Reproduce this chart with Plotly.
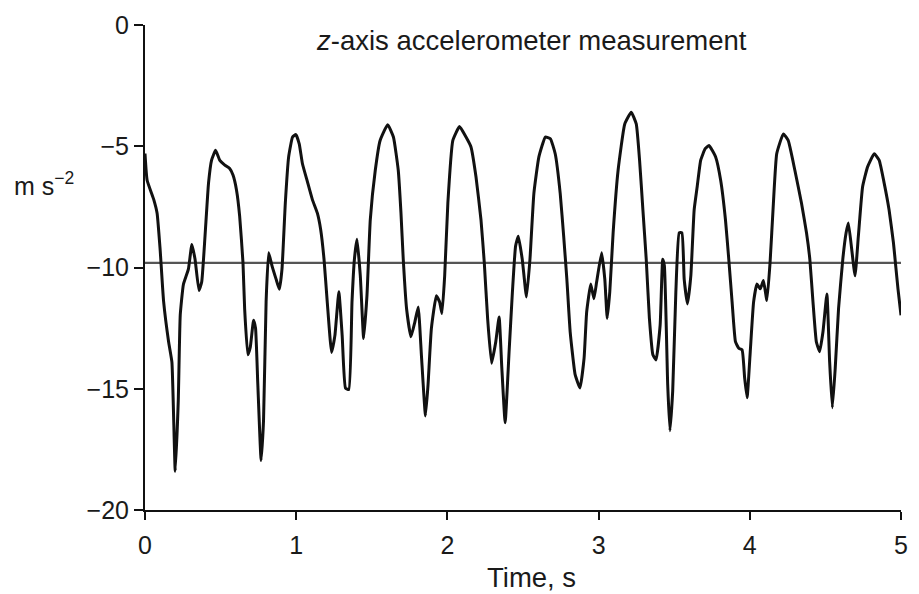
import plotly.graph_objects as go

# Time (s) and z-axis acceleration (m s^-2)
time_s = [0.0, 0.014, 0.058, 0.08, 0.10, 0.123, 0.156, 0.178, 0.20, 0.22, 0.233, 0.254, 0.287, 0.31, 0.331,
          0.357, 0.375, 0.397, 0.42, 0.44, 0.467, 0.495, 0.528, 0.56, 0.582, 0.605, 0.626, 0.648, 0.659,
          0.68, 0.696, 0.718, 0.731, 0.746, 0.768, 0.784, 0.801, 0.818, 0.84, 0.867, 0.889, 0.906, 0.928,
          0.95, 0.976, 0.998, 1.02, 1.041, 1.074, 1.107, 1.14, 1.162, 1.184, 1.205, 1.234, 1.256, 1.282,
          1.304, 1.326, 1.348, 1.369, 1.385, 1.402, 1.424, 1.446, 1.468, 1.49, 1.523, 1.555, 1.605, 1.643,
          1.675, 1.693, 1.708, 1.73, 1.759, 1.785, 1.807, 1.828, 1.855, 1.872, 1.894, 1.927, 1.949, 1.964,
          1.982, 2.003, 2.036, 2.08, 2.123, 2.156, 2.189, 2.222, 2.244, 2.266, 2.292, 2.32, 2.342, 2.36,
          2.382, 2.408, 2.43, 2.451, 2.469, 2.495, 2.523, 2.546, 2.572, 2.605, 2.648, 2.681, 2.713, 2.746,
          2.769, 2.79, 2.812, 2.845, 2.877, 2.904, 2.921, 2.948, 2.969, 2.987, 3.02, 3.041, 3.057, 3.074,
          3.096, 3.129, 3.173, 3.216, 3.249, 3.271, 3.293, 3.315, 3.336, 3.359, 3.38, 3.407, 3.424, 3.435,
          3.457, 3.472, 3.49, 3.511, 3.533, 3.551, 3.566, 3.588, 3.61, 3.632, 3.652, 3.675, 3.705, 3.73,
          3.774, 3.807, 3.839, 3.861, 3.883, 3.905, 3.927, 3.949, 3.966, 3.982, 4.003, 4.025, 4.047, 4.069,
          4.09, 4.113, 4.134, 4.156, 4.178, 4.222, 4.254, 4.298, 4.342, 4.375, 4.397, 4.418, 4.44, 4.462,
          4.484, 4.51, 4.528, 4.546, 4.565, 4.587, 4.615, 4.637, 4.652, 4.674, 4.696, 4.718, 4.746, 4.779,
          4.823, 4.856, 4.889, 4.921, 4.95, 4.965, 4.98, 5.0]
accel_z = [-5.3, -6.4, -7.2, -7.76, -9.25, -11.4, -13.06, -13.9, -18.4, -15.5, -11.97, -10.7, -10.07, -9.05, -9.66,
           -10.95, -10.6, -8.7, -6.53, -5.58, -5.17, -5.58, -5.78, -5.92, -6.19, -6.8, -7.88, -9.8, -11.7,
           -13.6, -13.3, -12.18, -12.5, -14.8, -17.96, -16.3, -11.4, -9.39, -9.93, -10.48, -10.9, -10.07, -7.35,
           -5.44, -4.62, -4.52, -4.9, -5.71, -6.46, -7.2, -7.76, -8.44, -9.66, -11.4, -13.5, -12.8, -11.0,
           -12.8, -14.97, -15.03, -11.43, -9.66, -8.84, -10.34, -12.93, -11.16, -8.03, -5.99, -4.76, -4.11, -4.62,
           -5.99, -7.76, -9.66, -11.7, -12.86, -12.24, -11.63, -13.6, -16.12, -14.83, -12.52, -11.16, -11.43, -11.9,
           -10.34, -7.35, -4.76, -4.19, -4.62, -5.03, -6.26, -8.03, -9.8, -12.1, -13.95, -13.06, -12.04, -14.15,
           -16.4, -13.47, -11.0, -9.11, -8.71, -9.66, -11.22, -9.66, -6.94, -5.44, -4.62, -4.69, -5.31, -6.94,
           -8.71, -10.48, -12.65, -14.42, -14.97, -13.74, -11.84, -10.68, -11.29, -10.6, -9.39, -10.48, -12.1, -11.0,
           -8.57, -5.99, -4.08, -3.6, -4.08, -5.58, -7.62, -9.66, -12.1, -13.6, -13.81, -12.38, -9.66, -9.93,
           -14.83, -16.73, -15.1, -11.0, -8.57, -8.57, -10.48, -11.5, -10.34, -7.62, -6.67, -5.58, -5.1, -4.97,
           -5.44, -6.39, -8.03, -9.66, -11.43, -13.06, -13.33, -13.4, -14.56, -15.37, -13.47, -11.43, -10.68, -10.88,
           -10.54, -11.36, -9.8, -7.35, -5.31, -4.49, -4.76, -5.99, -7.35, -8.57, -9.66, -11.43, -13.06, -13.47,
           -12.65, -11.09, -13.88, -15.78, -14.15, -11.7, -9.66, -8.57, -8.16, -9.25, -10.34, -8.71, -6.67, -5.85,
           -5.31, -5.58, -6.53, -7.62, -8.98, -9.93, -10.88, -11.97]

gravity = -9.81
x_ticks = [0, 1, 2, 3, 4, 5]
y_ticks = [0, -5, -10, -15, -20]

fig = go.Figure()
fig.add_trace(go.Scatter(x=[0, 5], y=[gravity, gravity], mode="lines",
                         line=dict(color="#555555", width=2.4), hoverinfo="skip", showlegend=False))
fig.add_trace(go.Scatter(x=time_s, y=accel_z, mode="lines",
                         line=dict(color="#111111", width=3, shape="spline", smoothing=0.4),
                         showlegend=False))

font = dict(family="Liberation Sans, Arial, sans-serif", size=25, color="#1a1a1a")
font_big = dict(family="Liberation Sans, Arial, sans-serif", size=27.5, color="#1a1a1a")
fig.update_layout(
    width=919, height=594,
    margin=dict(l=145, r=11, t=20, b=84),
    plot_bgcolor="white", paper_bgcolor="white",
    font=font,
    xaxis=dict(range=[0, 5], tickvals=x_ticks, showgrid=False, zeroline=False,
               showline=True, linecolor="#111111", linewidth=2,
               ticks="outside", ticklen=8, tickwidth=2, tickcolor="#111111",
               tickfont=font, ticklabelstandoff=4),
    yaxis=dict(range=[-20, 0], tickvals=y_ticks, showgrid=False, zeroline=False,
               showline=True, linecolor="#111111", linewidth=2,
               ticks="outside", ticklen=9, tickwidth=2, tickcolor="#111111",
               tickfont=font),
    annotations=[
        dict(text="<i>z</i>-axis accelerometer measurement", xref="paper", yref="paper",
             x=0.511, y=0.968, xanchor="center", yanchor="middle", showarrow=False, font=font_big),
        dict(text="m s<sup>−2</sup>", xref="paper", yref="paper",
             x=-0.176, y=0.672, xanchor="left", yanchor="middle", showarrow=False, font=font),
        dict(text="Time, s", xref="paper", yref="paper",
             x=0.511, y=-0.14, xanchor="center", yanchor="middle", showarrow=False, font=font_big),
    ],
)
fig.write_html("out.html")
